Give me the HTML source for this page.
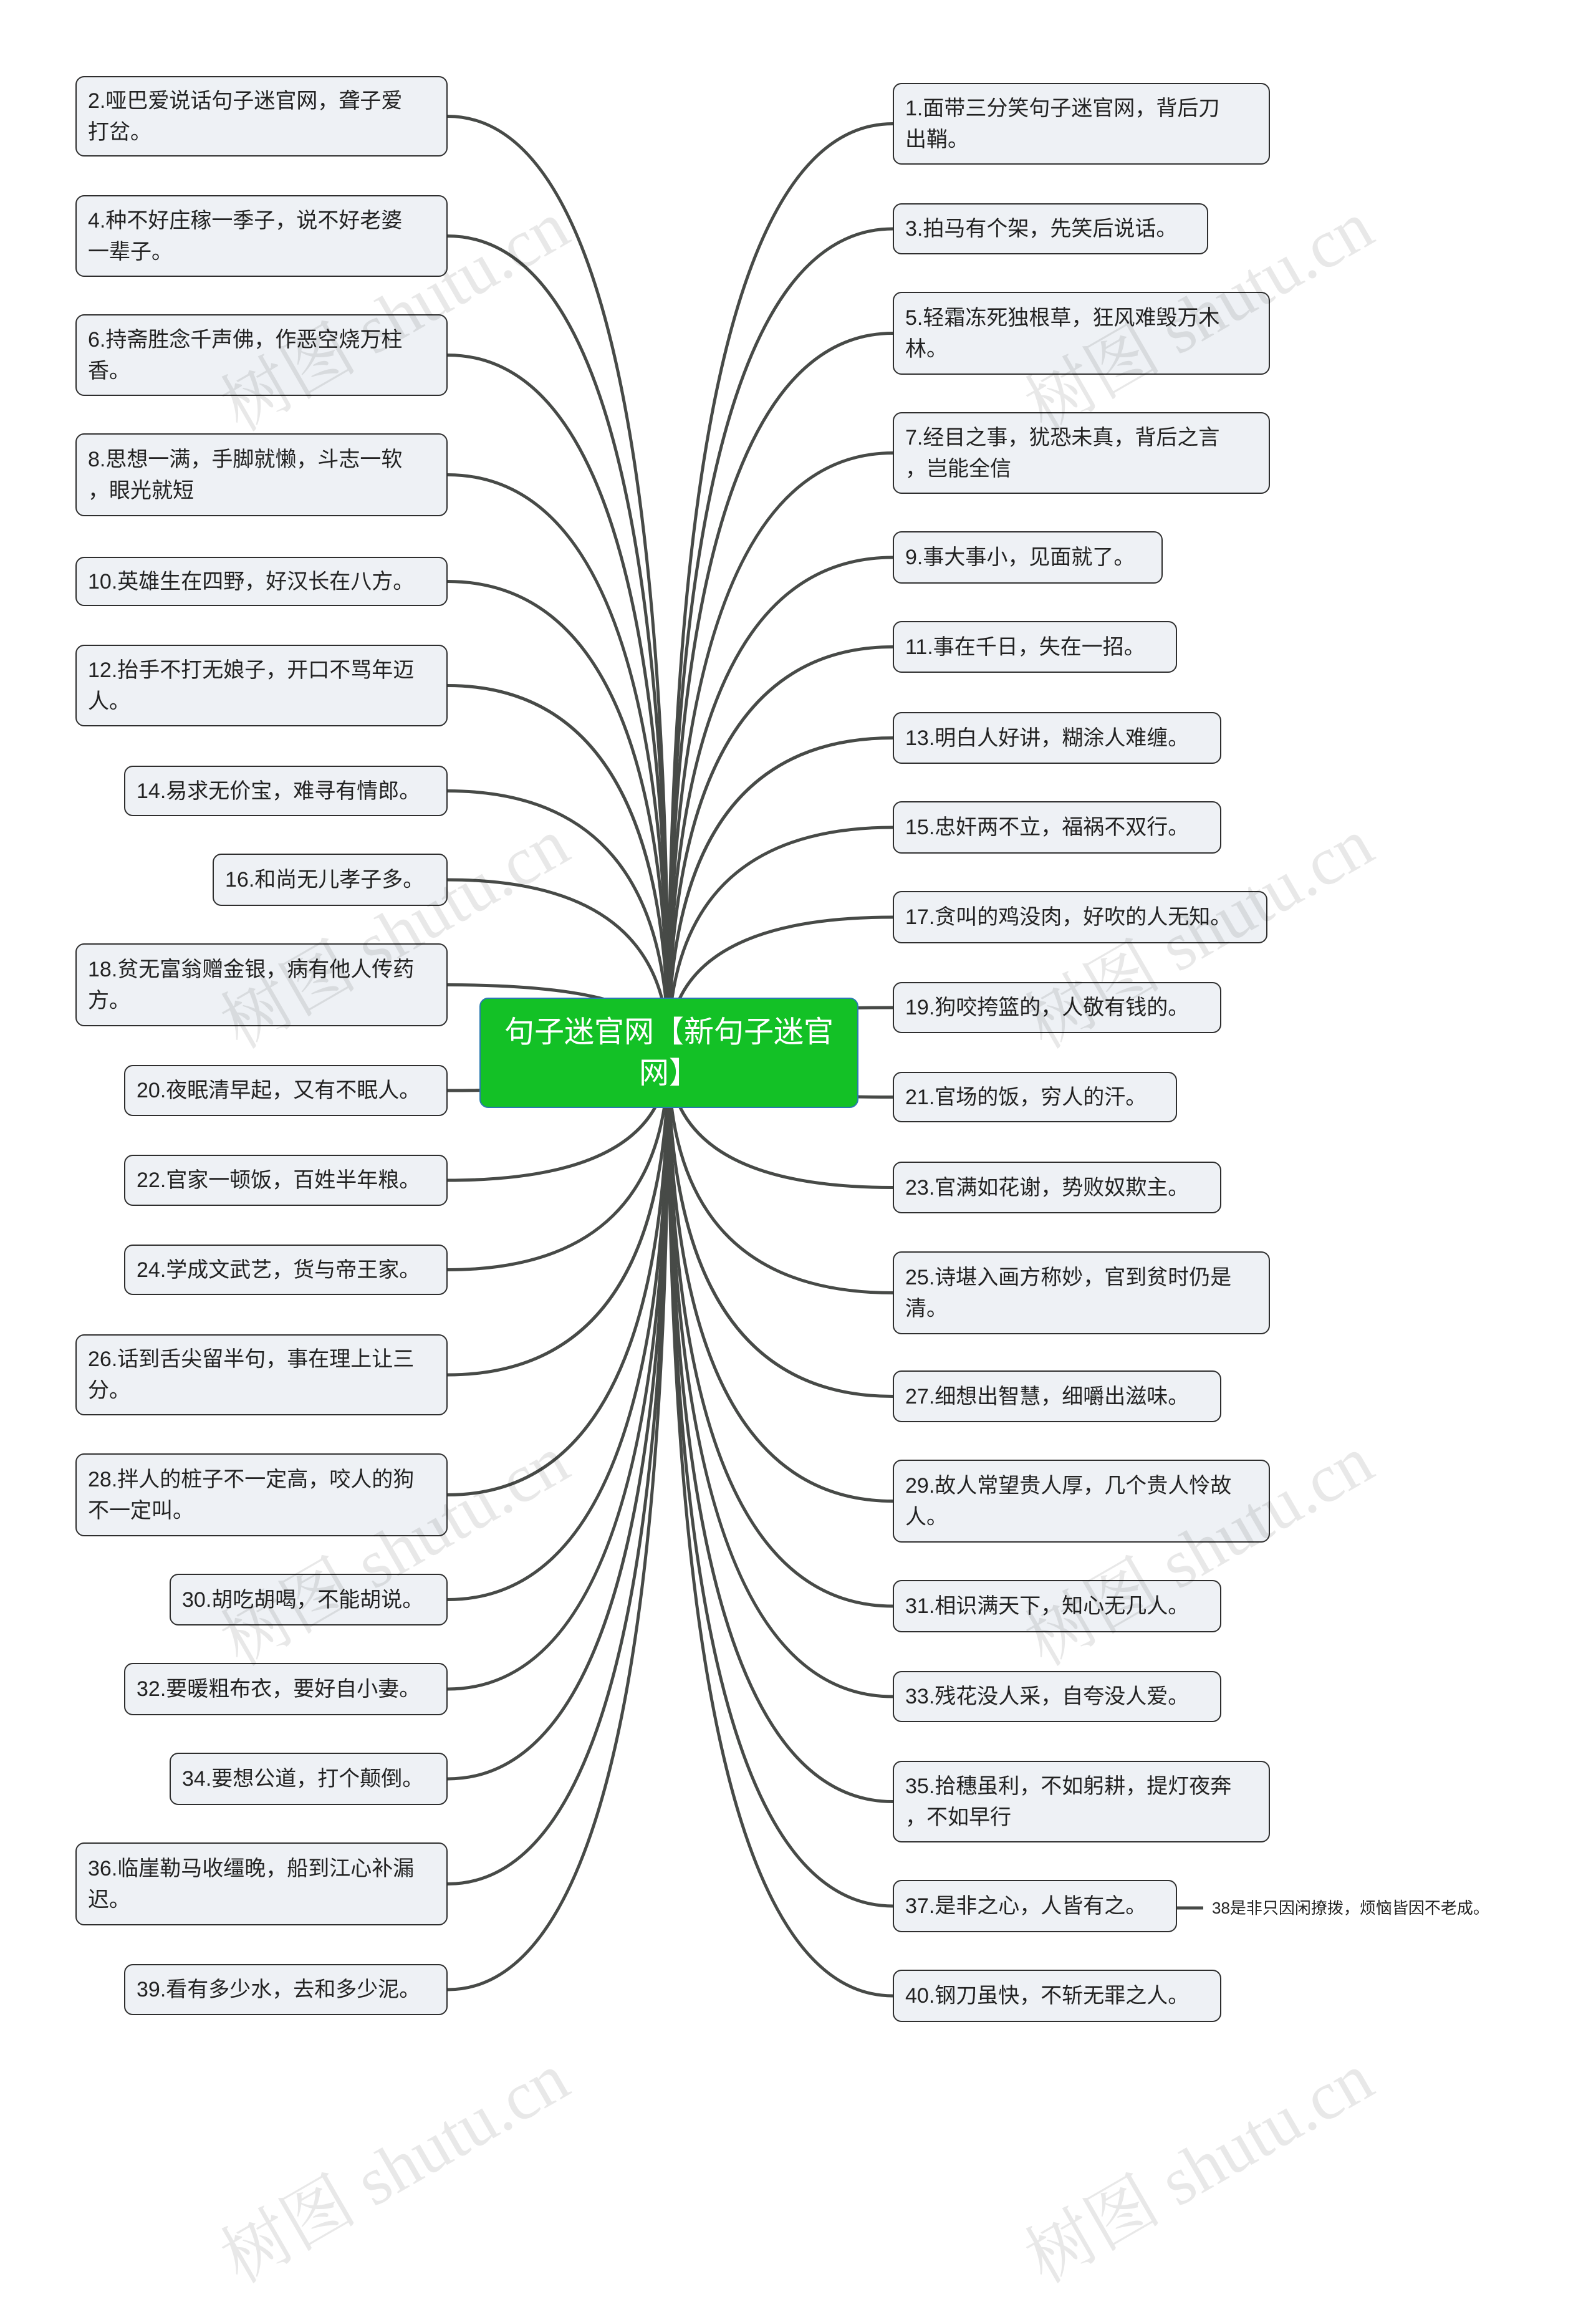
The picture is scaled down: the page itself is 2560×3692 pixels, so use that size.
<!DOCTYPE html>
<html><head><meta charset="utf-8">
<style>
html,body{margin:0;padding:0;background:#fff;}
body{width:2560px;height:3365px;position:relative;overflow:hidden;font-family:"Liberation Sans","Noto Sans CJK SC",sans-serif;}
.b{position:absolute;box-sizing:border-box;background:#eef1f5;border:2.5px solid #2e2e2e;border-radius:14px;display:flex;align-items:center;padding-left:18px;font-size:34px;line-height:50px;color:#222;white-space:nowrap;}
.c{position:absolute;left:769px;top:1600px;width:608px;height:177px;box-sizing:border-box;background:#13c126;border:2px solid #2a7ab0;border-radius:14px;color:#fff;font-size:48px;line-height:66px;text-align:center;display:flex;align-items:center;justify-content:center;}
.w{position:absolute;font-size:110px;color:rgba(0,0,0,0.09);transform:rotate(-30deg);white-space:nowrap;font-family:"Liberation Serif","Noto Serif CJK SC",serif;}
svg{position:absolute;left:0;top:0;}
</style></head><body>
<svg id="s" width="2560" height="3365"></svg>
<div id="root"></div>
<div class="c">句子迷官网【新句子迷官<br>网】</div>
<div style="position:absolute;left:1944px;top:3042px;font-size:26px;line-height:36px;color:#222;">38是非只因闲撩拨，烦恼皆因不老成。</div>
<div class="w" style="left:320px;top:420px;">树图 shutu.cn</div>
<div class="w" style="left:1610px;top:420px;">树图 shutu.cn</div>
<div class="w" style="left:320px;top:1410px;">树图 shutu.cn</div>
<div class="w" style="left:1610px;top:1410px;">树图 shutu.cn</div>
<div class="w" style="left:320px;top:2400px;">树图 shutu.cn</div>
<div class="w" style="left:1610px;top:2400px;">树图 shutu.cn</div>
<div class="w" style="left:320px;top:3390px;">树图 shutu.cn</div>
<div class="w" style="left:1610px;top:3390px;">树图 shutu.cn</div>
<script>
var sx=2.158, sy=2.146;
var L=[
[56,57,117,"2.哑巴爱说话句子迷官网，聋子爱<br>打岔。"],
[56,146,207,"4.种不好庄稼一季子，说不好老婆<br>一辈子。"],
[56,235,296,"6.持斋胜念千声佛，作恶空烧万柱<br>香。"],
[56,324,386,"8.思想一满，手脚就懒，斗志一软<br>，眼光就短"],
[56,416,453,"10.英雄生在四野，好汉长在八方。"],
[56,482,543,"12.抬手不打无娘子，开口不骂年迈<br>人。"],
[92,572,610,"14.易求无价宝，难寻有情郎。"],
[158,638,677,"16.和尚无儿孝子多。"],
[56,705,767,"18.贫无富翁赠金银，病有他人传药<br>方。"],
[92,796,834,"20.夜眠清早起，又有不眠人。"],
[92,863,901,"22.官家一顿饭，百姓半年粮。"],
[92,930,968,"24.学成文武艺，货与帝王家。"],
[56,997,1058,"26.话到舌尖留半句，事在理上让三<br>分。"],
[56,1086,1148,"28.拌人的桩子不一定高，咬人的狗<br>不一定叫。"],
[126,1176,1215,"30.胡吃胡喝，不能胡说。"],
[92,1243,1282,"32.要暖粗布衣，要好自小妻。"],
[126,1310,1349,"34.要想公道，打个颠倒。"],
[56,1377,1439,"36.临崖勒马收缰晚，船到江心补漏<br>迟。"],
[92,1468,1506,"39.看有多少水，去和多少泥。"]];
var R=[
[944,62,123,"1.面带三分笑句子迷官网，背后刀<br>出鞘。"],
[898,152,190,"3.拍马有个架，先笑后说话。"],
[944,218,280,"5.轻霜冻死独根草，狂风难毁万木<br>林。"],
[944,308,369,"7.经目之事，犹恐未真，背后之言<br>，岂能全信"],
[864,397,436,"9.事大事小，见面就了。"],
[875,464,503,"11.事在千日，失在一招。"],
[908,532,571,"13.明白人好讲，糊涂人难缠。"],
[908,599,638,"15.忠奸两不立，福祸不双行。"],
[942,666,705,"17.贪叫的鸡没肉，好吹的人无知。"],
[908,734,772,"19.狗咬挎篮的，人敬有钱的。"],
[875,801,839,"21.官场的饭，穷人的汗。"],
[908,868,907,"23.官满如花谢，势败奴欺主。"],
[944,935,997,"25.诗堪入画方称妙，官到贫时仍是<br>清。"],
[908,1024,1063,"27.细想出智慧，细嚼出滋味。"],
[944,1091,1153,"29.故人常望贵人厚，几个贵人怜故<br>人。"],
[908,1181,1220,"31.相识满天下，知心无几人。"],
[908,1249,1287,"33.残花没人采，自夸没人爱。"],
[944,1316,1377,"35.拾穗虽利，不如躬耕，提灯夜奔<br>，不如早行"],
[875,1405,1444,"37.是非之心，人皆有之。"],
[908,1472,1511,"40.钢刀虽快，不斩无罪之人。"]];
var root=document.getElementById('root'), s=document.getElementById('s');
var cx=1072, cy=1688, h='', p='';
function add(l,t,r,b,txt,side){
  var ty=(t+b)/2;
  h+='<div class="b" style="left:'+l+'px;top:'+t+'px;width:'+(r-l)+'px;height:'+(b-t)+'px">'+txt+'</div>';
  var ex= side<0 ? r : l;
  p+='<path d="M'+ex+' '+ty+' Q'+cx+' '+ty+' '+cx+' '+cy+'" />';
}
L.forEach(function(a){add(Math.round(a[0]*sx),Math.round(a[1]*sy),718,Math.round(a[2]*sy),a[3],-1);});
R.forEach(function(a){add(1432,Math.round(a[1]*sy),Math.round(a[0]*sx),Math.round(a[2]*sy),a[3],1);});
p+='<path d="M1877 3060 L1930 3060" />';
root.innerHTML=h;
s.innerHTML='<g fill="none" stroke="#474a47" stroke-width="5">'+p+'</g>';
</script>
</body></html>
